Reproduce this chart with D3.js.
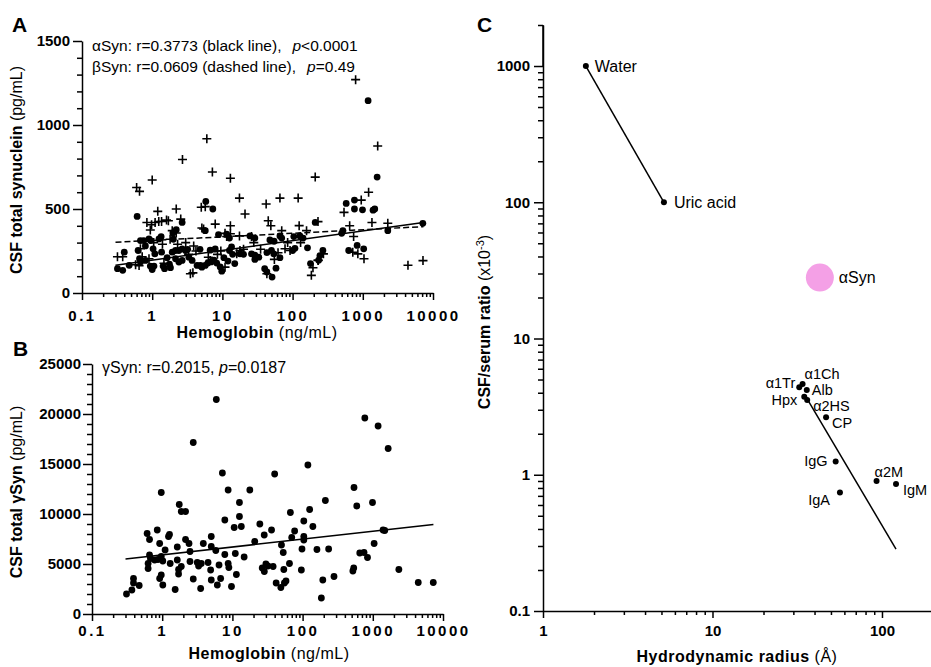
<!DOCTYPE html>
<html>
<head>
<meta charset="utf-8">
<script src="https://cdnjs.cloudflare.com/ajax/libs/d3/7.8.5/d3.min.js"></script>
<style>
body { margin: 0; background: #fff; }
text { font-family: "Liberation Sans", Arial, sans-serif; }
</style>
</head>
<body>
<div id="chart"></div>
<script>
// ---- data ----
var hbTicks = [0.1, 1, 10, 100, 1000, 10000];
var hbTickLabels = ["0.1", "1", "10", "100", "1000", "10000"];
var synTicksA = [0, 500, 1000, 1500];
var synTicksB = [0, 5000, 10000, 15000, 20000, 25000];
var ratioTicks = [0.1, 1, 10, 100, 1000];
var ratioTickLabels = ["0.1", "1", "10", "100", "1000"];
var radiusTicks = [1, 10, 100];

// panel A: [hemoglobin ng/mL, synuclein pg/mL]
var aSynPoints = [
  [0.32,145],[0.38,135],[0.40,243],[0.47,165],[0.61,456],[0.63,253],[0.68,312],[0.76,312],[0.66,204],[0.68,184],
  [0.80,194],[0.80,280],[0.90,322],[0.95,312],[1.03,263],[1.09,233],[1.25,322],[1.34,335],[1.36,243],[0.94,160],
  [1.0,140],[1.06,160],[1.43,160],[1.5,145],[1.63,210],[1.76,171],[1.82,151],[1.93,243],[2.0,320],[2.15,253],
  [2.4,253],[2.67,263],[2.98,253],[2.15,204],[2.4,184],[2.67,194],[3.2,260],[3.33,213],[3.7,194],[4.36,164],
  [4.87,164],[5.1,154],[5.7,164],[2.67,420],[1.97,357],[2.2,377],[5.8,545],[5.7,371],[7.3,500],[8.8,347],
  [11.5,351],[12.6,327],[24.7,340],[29,327],[47.5,316],[54.5,308],[70,327],[66,340],[104,336],[127,340],
  [141,327],[163,269],[100,253],[108,266],[4.8,260],[6.7,255],[7.9,262],[13.5,275],[12.6,253],[17.8,233],
  [20,230],[26,233],[29,225],[29,200],[33,213],[43,240],[50,253],[54,233],[66,210],[6.2,178],
  [6.9,185],[7.6,195],[8.3,178],[9.3,155],[9.8,130],[10.5,210],[12,190],[14,230],[15,175],[40,145],
  [43,125],[51,95],[58,148],[180,175],[235,195],[210,420],[580,533],[760,553],[760,500],[990,495],
  [1400,493],[1480,500],[1600,690],[1190,1145],[630,253],[830,283],[1030,263],[520,371],[500,355],[2270,371],
  [7160,415],[270,253],[245,223]
];
var bSynPoints = [
  [2.7,795],[1.0,673],[0.6,628],[0.66,605],[7.2,720],[13,683],[210,690],[17.5,565],[21,470],[42,530],
  [66,565],[120,565],[1.2,486],[2.2,500],[5.0,510],[5.7,514],[0.84,420],[0.98,406],[1.1,420],[1.24,426],
  [1.36,426],[1.6,434],[1.7,430],[2.55,440],[0.94,375],[1.93,371],[2.2,357],[5.1,387],[7.9,410],[13,400],
  [13,353],[45,430],[49,400],[70,371],[124,401],[158,371],[230,425],[540,480],[650,400],[950,553],
  [1210,600],[1350,420],[2270,415],[4400,165],[7200,193],[720,243],[850,233],[1040,204],[740,336],[0.32,216],
  [0.38,216],[0.58,168],[0.65,163],[0.72,216],[0.9,204],[1.47,177],[3.5,115],[3.9,280],[0.68,263],[5.4,381],
  [10.9,355],[11.5,336],[17.5,340],[26,336],[17.8,253],[16,233],[10.9,154],[6.3,213],[6.7,194],[78,263],
  [92,253],[195,150],[185,105],[232,194],[43,115],[275,233],[230,195],[790,1270],[6.0,918],[1630,875],
  [1.05,300],[1.4,290],[1.8,320],[2.3,290],[3.0,300],[3.3,230],[4.2,250],[8.5,230],[9.5,250],[20,260],
  [28,300],[35,260],[55,200],[62,240],[85,300],[130,300],[3.8,120]
];
var aSynFit = [[0.3,165],[7300,420]];
var bSynFit = [[0.3,302],[7300,395]];

// panel B
var gSynPoints = [
  [0.31,2000],[0.37,2400],[0.39,3100],[0.39,3550],[0.47,2850],[0.61,8050],[0.66,7450],[0.85,8400],[0.66,5900],[0.68,5550],
  [0.63,5050],[0.63,4550],[0.78,5400],[0.87,5450],[0.92,7050],[0.97,12150],[0.97,5750],[1.02,5300],[0.92,3550],[0.97,3900],
  [1.02,2900],[1.10,6400],[1.23,7750],[1.27,7950],[1.30,5050],[1.53,2450],[1.64,6700],[1.64,5400],[1.71,4450],[1.71,4000],
  [1.87,4750],[1.75,10950],[1.87,10250],[2.15,10250],[2.15,7450],[2.41,7050],[2.49,6250],[2.49,5250],[2.77,3500],[2.77,17150],
  [3.16,5150],[3.3,4800],[3.6,5050],[3.53,2550],[3.85,7050],[4.5,5150],[4.9,4400],[5.0,3400],[5.0,7750],[5.0,6750],
  [5.8,6350],[5.9,21450],[6.1,2900],[6.45,4900],[6.8,3550],[7.2,14100],[7.8,9400],[7.8,5950],[8.7,12400],[8.7,5050],
  [8.9,4650],[9.7,2750],[10.6,8650],[11.0,6050],[11.4,3950],[12.6,11150],[12.6,9750],[13.4,8750],[14.7,5700],[17.7,12400],
  [20.8,7250],[24.6,9000],[28.4,7900],[36.1,8400],[26.6,4600],[28.5,4250],[30,5000],[32,4800],[38,4750],[40,14000],
  [42,3100],[49,2650],[55,3100],[58,3300],[50,6900],[53,6150],[54,4450],[65,5050],[67,10150],[70,7650],
  [77,8300],[96,4400],[98,6500],[104,7750],[104,7400],[104,9300],[119,14900],[126,10450],[140,8750],[160,6450],
  [185,1600],[194,3400],[211,11350],[235,6500],[280,3750],[520,4300],[535,4600],[540,12650],[591,10800],[652,6100],
  [750,6150],[840,5650],[770,19600],[990,11150],[1045,7050],[1190,18800],[1400,8400],[1480,8350],[1655,16550],[2350,4450],
  [4440,3150],[7270,3150]
];
var gSynFit = [[0.3,5500],[7300,8950]];

// panel C: hydrodynamic radius (Å) vs CSF/serum ratio (x10^-3)
var smallNames = ["Water", "Uric acid"];
var smallRadius = [1.79, 5.17];
var smallRatio = [1000, 100];
var proteinNames = ["\u03b11Tr", "\u03b11Ch", "Alb", "Hpx", "\u03b12HS", "CP", "IgG", "\u03b12M", "IgM", "IgA"];
var proteinRadius = [32.5, 34.0, 36.0, 34.8, 36.2, 46.8, 53.3, 92.9, 121, 56.5];
var proteinRatio = [4.38, 4.63, 4.18, 3.73, 3.53, 2.64, 1.25, 0.90, 0.855, 0.74];
var proteinFit = [[35.1, 3.84], [121, 0.285]];
var aSynName = "\u03b1Syn";
var aSynRadius = 43;
var aSynRatio = 28;

// label placement (pixels) for panel C
var smallLabelDx = [9, 10], smallLabelDy = [6, 6];
var protLabelDx = [-4, 2, 5, -7, 6, 6, -8, -2, 7, -10];
var protLabelDy = [1, -5, 5, 8, 11, 11, 4, -4, 11, 12];
var protAnchor = ["end", "start", "start", "end", "start", "start", "end", "start", "start", "end"];

var svg = d3.select("#chart").append("svg")
  .attr("width", 931)
  .attr("height", 667);

function logMinors(lo, hi) {
  var out = [];
  for (var d = lo; d < hi; d *= 10) {
    for (var k = 2; k <= 9; k++) {
      if (d * k <= hi) out.push(+(d * k).toPrecision(3));
    }
  }
  return out;
}

function styleAxis(sel) {
  sel.attr("font-family", "Liberation Sans, Arial, sans-serif")
    .attr("font-size", 15)
    .attr("font-weight", "bold");
  sel.selectAll("line, path").attr("stroke", "#000").attr("stroke-width", 1.5);
  sel.selectAll("text").attr("fill", "#000");
}

function bottomAxis(y0, scale, majors, labels, minors, pad, spacing) {
  var ax = svg.append("g")
    .attr("transform", `translate(0,${y0})`)
    .call(d3.axisBottom(scale).tickValues(majors)
      .tickFormat((d, i) => labels[i]).tickSize(7).tickSizeOuter(0).tickPadding(pad));
  styleAxis(ax);
  ax.selectAll("text").style("letter-spacing", spacing);
  var mn = svg.append("g")
    .attr("transform", `translate(0,${y0})`)
    .call(d3.axisBottom(scale).tickValues(minors).tickFormat("").tickSize(4).tickSizeOuter(0));
  mn.select(".domain").remove();
  styleAxis(mn);
}

function leftAxis(x0, scale, majors, labels, minors, pad) {
  var ax = svg.append("g")
    .attr("transform", `translate(${x0},0)`)
    .call(d3.axisLeft(scale).tickValues(majors)
      .tickFormat((d, i) => labels[i]).tickSize(9).tickSizeOuter(0).tickPadding(pad));
  styleAxis(ax);
  var mn = svg.append("g")
    .attr("transform", `translate(${x0},0)`)
    .call(d3.axisLeft(scale).tickValues(minors).tickFormat("").tickSize(5).tickSizeOuter(0));
  mn.select(".domain").remove();
  styleAxis(mn);
}

function yTitle(x, y, parts) {
  var t = svg.append("text")
    .attr("transform", `translate(${x},${y}) rotate(-90)`)
    .attr("text-anchor", "middle")
    .style("font-size", "16px");
  parts.forEach(function(p) {
    var s = t.append("tspan").text(p.t);
    if (p.b) s.style("font-weight", "bold");
    if (p.sup) s.attr("dy", -6).style("font-size", "11px");
    if (p.down) s.attr("dy", 6);
  });
}

function xTitle(x, y, bold, normal) {
  var t = svg.append("text")
    .attr("x", x).attr("y", y)
    .attr("text-anchor", "middle")
    .style("font-size", "16px")
    .style("letter-spacing", "0.5px");
  t.append("tspan").style("font-weight", "bold").text(bold);
  t.append("tspan").text(" " + normal);
}

function panelLetter(x, y, s) {
  svg.append("text").attr("x", x).attr("y", y)
    .style("font-size", "21px").style("font-weight", "bold").text(s);
}

var crossPath = "M-4.5,0H4.5M0,-4.5V4.5";

// ================= Panel A =================
var xA = d3.scaleLog().domain([0.1, 10000]).range([82, 433]);
var yA = d3.scaleLinear().domain([0, 1500]).range([293, 41]);

bottomAxis(293, xA, hbTicks, hbTickLabels, logMinors(0.1, 10000), 10, "2.5px");
leftAxis(82, yA, synTicksA, synTicksA.map(String), d3.range(100, 1500, 100).filter(v => v % 500), 3);

svg.append("g").selectAll("path.cross")
  .data(bSynPoints).enter().append("path")
  .attr("transform", d => `translate(${xA(d[0])},${yA(d[1])})`)
  .attr("d", crossPath)
  .attr("stroke", "#000").attr("stroke-width", 1.6);

svg.append("g").selectAll("circle")
  .data(aSynPoints).enter().append("circle")
  .attr("cx", d => xA(d[0]))
  .attr("cy", d => yA(d[1]))
  .attr("r", 3.4)
  .attr("fill", "#000");

var fitLineA = d3.line().x(d => xA(d[0])).y(d => yA(d[1]));
svg.append("path").attr("d", fitLineA(aSynFit))
  .attr("stroke", "#000").attr("stroke-width", 1.5).attr("fill", "none");
svg.append("path").attr("d", fitLineA(bSynFit))
  .attr("stroke", "#000").attr("stroke-width", 1.5).attr("fill", "none")
  .attr("stroke-dasharray", "6,3");

var annA1 = svg.append("text").attr("x", 92).attr("y", 51).style("font-size", "15.5px");
annA1.append("tspan").text("\u03b1Syn: r=0.3773 (black line),");
annA1.append("tspan").attr("dx", 11).style("font-style", "italic").text("p");
annA1.append("tspan").text("<0.0001");
var annA2 = svg.append("text").attr("x", 92).attr("y", 72).style("font-size", "15.5px");
annA2.append("tspan").text("\u03b2Syn: r=0.0609 (dashed line),");
annA2.append("tspan").attr("dx", 11).style("font-style", "italic").text("p");
annA2.append("tspan").text("=0.49");

yTitle(22, 170, [{t: "CSF total synuclein", b: true}, {t: "  (pg/mL)"}]);
xTitle(257, 338, "Hemoglobin", "(ng/mL)");
panelLetter(12, 32, "A");

// ================= Panel B =================
var xB = d3.scaleLog().domain([0.1, 10000]).range([92, 443]);
var yB = d3.scaleLinear().domain([0, 25000]).range([614, 364]);

bottomAxis(614, xB, hbTicks, hbTickLabels, logMinors(0.1, 10000), 4, "2.5px");
leftAxis(92, yB, synTicksB, synTicksB.map(String), d3.range(1000, 25000, 1000).filter(v => v % 5000), 2);

svg.append("g").selectAll("circle")
  .data(gSynPoints).enter().append("circle")
  .attr("cx", d => xB(d[0]))
  .attr("cy", d => yB(d[1]))
  .attr("r", 3.4)
  .attr("fill", "#000");

var fitLineB = d3.line().x(d => xB(d[0])).y(d => yB(d[1]));
svg.append("path").attr("d", fitLineB(gSynFit))
  .attr("stroke", "#000").attr("stroke-width", 1.5).attr("fill", "none");

var annB = svg.append("text").attr("x", 102).attr("y", 373).style("font-size", "16px");
annB.append("tspan").text("\u03b3Syn: r=0.2015, ");
annB.append("tspan").style("font-style", "italic").text("p");
annB.append("tspan").text("=0.0187");

yTitle(22, 492, [{t: "CSF total \u03b3Syn", b: true}, {t: " (pg/mL)"}]);
xTitle(269, 659, "Hemoglobin", "(ng/mL)");
panelLetter(13, 356, "B");

// ================= Panel C =================
var xC = d3.scaleLog().domain([1, 200]).range([543, 933]);
var yC = d3.scaleLog().domain([0.1, 2000]).range([611, 25]);

bottomAxis(611, xC, radiusTicks, radiusTicks.map(String), logMinors(1, 200), 7, "0px");
leftAxis(543, yC, ratioTicks, ratioTickLabels, logMinors(0.1, 2000), 4);
// y axis continues above 1000
svg.append("line").attr("x1", 543).attr("x2", 543).attr("y1", yC(2000)).attr("y2", yC(1000))
  .attr("stroke", "#000").attr("stroke-width", 1.5);

svg.append("circle")
  .attr("cx", xC(aSynRadius)).attr("cy", yC(aSynRatio)).attr("r", 14)
  .attr("fill", "#f4a0e6");
svg.append("text")
  .attr("x", xC(aSynRadius) + 19).attr("y", yC(aSynRatio) + 5)
  .style("font-size", "16px").text(aSynName);

var small = smallNames.map((n, i) => ({n: n, x: smallRadius[i], y: smallRatio[i], dx: smallLabelDx[i], dy: smallLabelDy[i]}));
svg.append("path")
  .attr("d", d3.line().x(d => xC(d.x)).y(d => yC(d.y))(small))
  .attr("stroke", "#000").attr("stroke-width", 1.5).attr("fill", "none");
svg.append("g").selectAll("circle").data(small).enter().append("circle")
  .attr("cx", d => xC(d.x)).attr("cy", d => yC(d.y)).attr("r", 3).attr("fill", "#000");
svg.append("g").selectAll("text").data(small).enter().append("text")
  .attr("x", d => xC(d.x) + d.dx).attr("y", d => yC(d.y) + d.dy)
  .style("font-size", "16px").text(d => d.n);

svg.append("path")
  .attr("d", d3.line().x(d => xC(d[0])).y(d => yC(d[1]))(proteinFit))
  .attr("stroke", "#000").attr("stroke-width", 1.5).attr("fill", "none");

var prot = proteinNames.map((n, i) => ({n: n, x: proteinRadius[i], y: proteinRatio[i],
  dx: protLabelDx[i], dy: protLabelDy[i], a: protAnchor[i]}));
svg.append("g").selectAll("circle").data(prot).enter().append("circle")
  .attr("cx", d => xC(d.x)).attr("cy", d => yC(d.y)).attr("r", 3).attr("fill", "#000");
svg.append("g").selectAll("text").data(prot).enter().append("text")
  .attr("x", d => xC(d.x) + d.dx).attr("y", d => yC(d.y) + d.dy)
  .attr("text-anchor", d => d.a)
  .style("font-size", "14.5px").text(d => d.n);

yTitle(490, 322, [{t: "CSF/serum ratio", b: true}, {t: " (x10"}, {t: "-3", sup: true}, {t: ")", down: true}]);
xTitle(737, 662, "Hydrodynamic radius", "(\u00c5)");
panelLetter(477, 32, "C");
</script>
</body>
</html>
